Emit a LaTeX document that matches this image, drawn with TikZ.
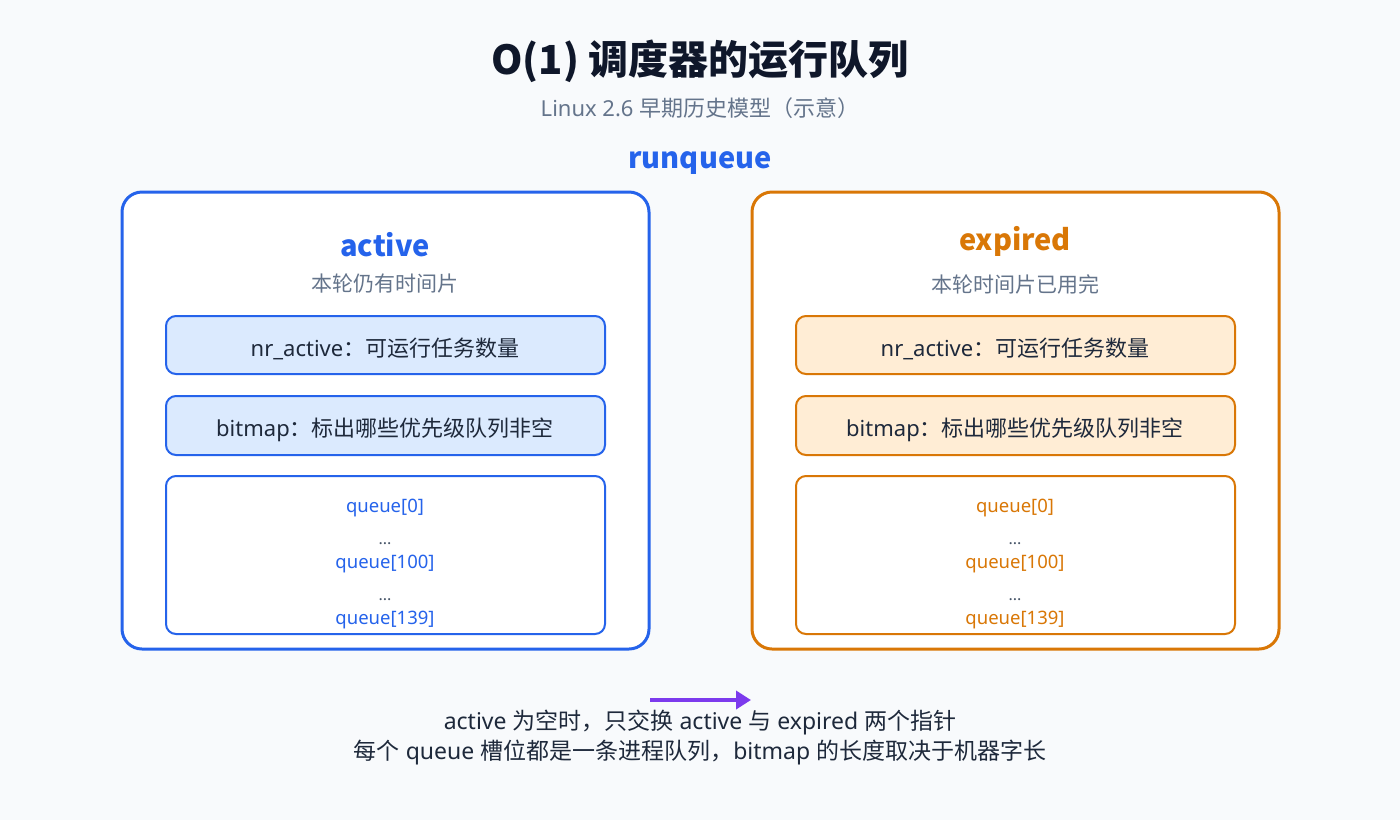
\documentclass[tikz,border=0pt]{standalone}
\usepackage{fontspec}
\setmainfont{Noto Sans}
\newfontfamily\cjk{Noto Sans CJK SC}
\usetikzlibrary{arrows.meta}
\definecolor{bg}{HTML}{F8FAFC}
\definecolor{ink}{HTML}{1E293B}
\definecolor{titleink}{HTML}{0F172A}
\definecolor{muted}{HTML}{64748B}
\definecolor{dots}{HTML}{475569}
\definecolor{blu}{HTML}{2563EB}
\definecolor{blufill}{HTML}{DBEAFE}
\definecolor{org}{HTML}{D97706}
\definecolor{orgfill}{HTML}{FFEDD5}
\definecolor{pur}{HTML}{7C3AED}
\newcommand{\fs}[1]{\fontsize{#1}{#1}\selectfont}
\newcommand{\zh}[1]{{\cjk #1}}
\tikzset{
  outerbox/.style={line width=3pt, rounded corners=20pt, fill=white},
  innerbox/.style={line width=2pt, rounded corners=10pt},
  fieldtext/.style={text=ink, font=\fs{22}},
  qtext/.style={font=\fs{18.5}},
  dottext/.style={text=dots, font=\fs{16}},
  heading/.style={font=\cjk\fs{29}\bfseries},
}
\begin{document}
\begin{tikzpicture}[x=1pt,y=-1pt]
\fill[bg] (0,0) rectangle (1400,820);
\useasboundingbox (0,0) rectangle (1400,820);

\node[text=titleink, font=\cjk\fs{40}\bfseries] (title) at (700,61) {O(1) 调度器的运行队列};
\node[text=muted, font=\fs{22}] (sub) at (700,108) {Linux 2.6 \zh{早期历史模型（示意）}};
\node[heading, text=blu] (rq) at (700,163) {runqueue};

% active side
\draw[outerbox, draw=blu] (122,192) rectangle (649,649);
\node[heading, text=blu] (act) at (385,245) {active};
\node[text=muted, font=\cjk\fs{21}] (actsub) at (385,284) {本轮仍有时间片};
\draw[innerbox, draw=blu, fill=blufill] (166,316) rectangle (605,374);
\node[fieldtext] (anr) at (385,349) {nr\_active\zh{：可运行任务数量}};
\draw[innerbox, draw=blu, fill=blufill] (166,396) rectangle (605,455);
\node[fieldtext] (abm) at (385,430) {bitmap\zh{：标出哪些优先级队列非空}};
\draw[innerbox, draw=blu, fill=white] (166,476) rectangle (605,634);
\node[qtext, text=blu] (aq0) at (385,508) {queue[0]};
\node[dottext] (ad1) at (385,544) {...};
\node[qtext, text=blu] (aq100) at (385,564) {queue[100]};
\node[dottext] (ad2) at (385,600) {...};
\node[qtext, text=blu] (aq139) at (385,620) {queue[139]};

% expired side
\draw[outerbox, draw=org] (752,192) rectangle (1279,649);
\node[heading, text=org] (exp) at (1015,241) {expired};
\node[text=muted, font=\cjk\fs{21}] (expsub) at (1015,284) {本轮时间片已用完};
\draw[innerbox, draw=org, fill=orgfill] (796,316) rectangle (1235,374);
\node[fieldtext] (enr) at (1015,349) {nr\_active\zh{：可运行任务数量}};
\draw[innerbox, draw=org, fill=orgfill] (796,396) rectangle (1235,455);
\node[fieldtext] (ebm) at (1015,430) {bitmap\zh{：标出哪些优先级队列非空}};
\draw[innerbox, draw=org, fill=white] (796,476) rectangle (1235,634);
\node[qtext, text=org] (eq0) at (1015,508) {queue[0]};
\node[dottext] (ed1) at (1015,544) {...};
\node[qtext, text=org] (eq100) at (1015,564) {queue[100]};
\node[dottext] (ed2) at (1015,600) {...};
\node[qtext, text=org] (eq139) at (1015,620) {queue[139]};

% swap arrow
\coordinate (sa) at (650,700);
\coordinate (sb) at (751,700);
\draw[pur, line width=4pt, -{Triangle[length=15pt,width=18pt]}] (sa) -- (sb);

\node[text=ink, font=\fs{23}] (n1) at (700,722) {active \zh{为空时，只交换} active \zh{与} expired \zh{两个指针}};
\node[text=ink, font=\fs{23}] (n2) at (700,753) {\zh{每个} queue \zh{槽位都是一条进程队列，}bitmap \zh{的长度取决于机器字长}};
\end{tikzpicture}
\end{document}
